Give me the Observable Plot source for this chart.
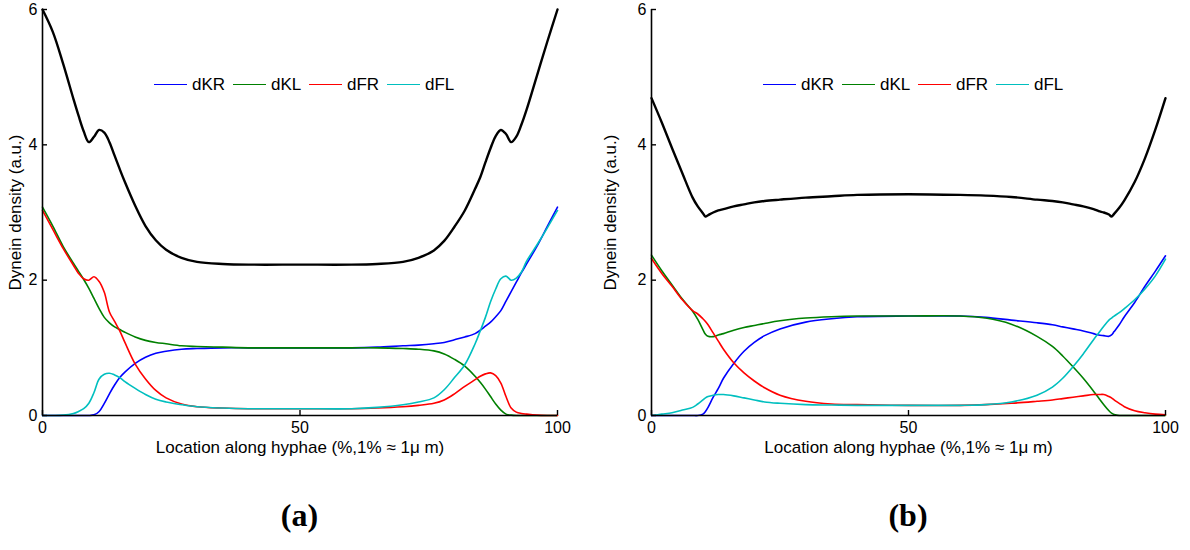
<!DOCTYPE html>
<html>
<head>
<meta charset="utf-8">
<script src="https://cdn.jsdelivr.net/npm/d3@7"></script>
<script src="https://cdn.jsdelivr.net/npm/@observablehq/plot@0.6"></script>
<style>
  html, body { margin: 0; padding: 0; background: #fff; }
  body { width: 1190px; height: 550px; position: relative; overflow: hidden; font-family: "Liberation Sans", Arial, sans-serif; }
  .panel { position: absolute; top: 0; }
  .leg { position: absolute; top: 74px; height: 22px; font-size: 17px; line-height: 22px; color: #000; white-space: nowrap; }
  .leg .ln { position: absolute; top: 10px; width: 33px; height: 0; border-top: 1.6px solid; }
  .leg .tx { position: absolute; top: 0; }
  .cap { position: absolute; top: 497px; width: 100px; text-align: center; font-family: "Liberation Serif", "DejaVu Serif", serif; font-weight: bold; font-size: 32px; color: #000; }
</style>
</head>
<body>
<script>
// ---------- data ----------
const seriesNames = ["dKR", "dKL", "dFR", "dFL"];
const xTicks = [0, 50, 100];
const yTicks = [0, 2, 4, 6];
const xLabel = "Location along hyphae (%,1% \u2248 1\u03bc m)";
const yLabel = "Dynein density (a.u.)";
const panelCaptions = ["(a)", "(b)"];

// panel (a)
const xA = [0,2,4,6,7,8,9,10,11,12,13,14,15,16,18,20,22,24,27,30,35,40,50,
            60,65,70,73,76,78,80,82,84,85,86,87,88,89,90,91,92,93,94,96,98,100];
const aTotal = [6.0,5.67,5.2,4.68,4.43,4.2,4.04,4.12,4.22,4.18,4.04,3.84,3.64,3.45,3.1,2.8,2.59,2.45,2.33,2.27,2.24,2.23,2.23,
                2.23,2.24,2.27,2.33,2.44,2.58,2.79,3.03,3.35,3.52,3.74,3.95,4.13,4.22,4.16,4.04,4.12,4.3,4.52,5.02,5.52,6.0];
const aKR = [0,0,0,0,0,0,0,0.01,0.06,0.18,0.32,0.45,0.56,0.64,0.77,0.86,0.92,0.95,0.98,0.99,1.0,1.0,1.0,
             1.0,1.01,1.03,1.04,1.06,1.08,1.12,1.16,1.21,1.26,1.32,1.38,1.46,1.55,1.69,1.83,1.97,2.11,2.24,2.5,2.79,3.08];
const aKL = [3.08,2.8,2.5,2.25,2.13,2.01,1.88,1.73,1.58,1.45,1.37,1.31,1.27,1.23,1.16,1.11,1.08,1.06,1.03,1.02,1.01,1.0,1.0,
             1.0,1.0,0.99,0.98,0.955,0.91,0.83,0.73,0.58,0.49,0.39,0.28,0.17,0.08,0.02,0.005,0,0,0,0,0,0];
const aFR = [3.03,2.75,2.47,2.22,2.1,2.02,2.0,2.05,1.98,1.82,1.53,1.39,1.25,1.08,0.76,0.54,0.37,0.26,0.17,0.13,0.11,0.10,0.10,
             0.10,0.11,0.13,0.15,0.18,0.23,0.32,0.43,0.53,0.58,0.615,0.63,0.59,0.48,0.28,0.11,0.05,0.03,0.02,0.005,0,0];
const aFL = [0,0,0.005,0.03,0.06,0.1,0.18,0.34,0.54,0.61,0.625,0.6,0.56,0.5,0.4,0.31,0.24,0.2,0.16,0.13,0.11,0.10,0.10,
             0.10,0.12,0.16,0.2,0.26,0.38,0.56,0.75,1.06,1.25,1.45,1.68,1.87,2.02,2.06,2.0,2.03,2.12,2.28,2.52,2.77,3.03];

// panel (b)
const xB = [0,2,4,6,8,9,10,10.5,11,12,13,14,16,18,20,22,25,30,35,40,50,
            60,65,70,75,78,80,82,84,86,87,88,89,89.5,90,91,92,94,96,98,100];
const bTotal = [4.69,4.33,3.95,3.58,3.22,3.09,2.99,2.94,2.96,3.0,3.03,3.05,3.09,3.12,3.15,3.17,3.19,3.22,3.24,3.26,3.27,
                3.26,3.25,3.23,3.19,3.17,3.15,3.12,3.09,3.05,3.02,3.0,2.97,2.94,2.98,3.07,3.18,3.45,3.8,4.22,4.69];
const bKR = [0,0,0,0,0,0,0.02,0.06,0.12,0.27,0.4,0.55,0.77,0.95,1.08,1.18,1.28,1.38,1.43,1.46,1.47,
             1.47,1.45,1.41,1.37,1.34,1.31,1.28,1.25,1.21,1.19,1.18,1.17,1.19,1.24,1.34,1.46,1.67,1.91,2.13,2.36];
const bKL = [2.37,2.14,1.93,1.72,1.54,1.42,1.27,1.2,1.17,1.165,1.19,1.21,1.26,1.3,1.33,1.36,1.4,1.44,1.46,1.47,1.47,
             1.47,1.44,1.35,1.17,1.02,0.88,0.72,0.55,0.36,0.26,0.16,0.07,0.035,0.015,0,0,0,0,0,0];
const bFR = [2.32,2.1,1.91,1.71,1.55,1.5,1.43,1.39,1.34,1.22,1.1,0.98,0.78,0.63,0.51,0.41,0.3,0.21,0.17,0.16,0.15,
             0.15,0.16,0.18,0.21,0.23,0.25,0.27,0.29,0.31,0.31,0.31,0.28,0.26,0.23,0.18,0.13,0.07,0.04,0.02,0.01];
const bFL = [0,0.02,0.04,0.08,0.12,0.17,0.23,0.26,0.28,0.3,0.31,0.31,0.29,0.26,0.23,0.2,0.18,0.16,0.155,0.15,0.15,
             0.15,0.16,0.2,0.3,0.42,0.55,0.72,0.91,1.12,1.22,1.32,1.41,1.44,1.47,1.52,1.58,1.71,1.87,2.06,2.31];

// ---------- styles ----------
const seriesColors = ["#0000ff", "#008000", "#ff0000", "#00bfbf"];
const W = 595, H = 470, MT = 9, MB = 55;

function drawPanel(x, total, series, left, ml, mr, legendOffsets, caption) {
  const rows = ys => x.map((xv, i) => ({x: xv, y: ys[i]}));
  const fw = W - ml - mr, fh = H - MT - MB;
  const chart = Plot.plot({
    width: W, height: H,
    marginTop: MT, marginBottom: MB, marginLeft: ml, marginRight: mr,
    x: {domain: [0, 100]},
    y: {domain: [0, 6]},
    style: {fontFamily: "'Liberation Sans', Arial, sans-serif", fontSize: "16px", color: "#000", background: "#fff", overflow: "visible"},
    marks: [
      Plot.line(rows(total), {x: "x", y: "y", stroke: "#000", strokeWidth: 2.4, curve: "catmull-rom"}),
      ...series.map((s, i) => Plot.line(rows(s), {x: "x", y: "y", stroke: seriesColors[i], strokeWidth: 1.6, curve: "catmull-rom"})),
      Plot.ruleY([0], {stroke: "#000", strokeWidth: 1.6}),
      Plot.ruleX([0], {stroke: "#000", strokeWidth: 1.6}),
      Plot.tickY(yTicks, {y: d => d, stroke: "#000", strokeWidth: 1.4, insetRight: fw - 5}),
      Plot.tickX(xTicks, {x: d => d, stroke: "#000", strokeWidth: 1.4, insetTop: fh - 5}),
      Plot.axisX({ticks: xTicks, tickSize: 0, tickPadding: 6, tickFormat: d => `${d}`, label: xLabel, labelAnchor: "center", labelOffset: 37, labelArrow: "none"}),
      Plot.axisY({ticks: yTicks, tickSize: 0, tickPadding: 5, tickFormat: d => `${d}`, label: yLabel, labelAnchor: "center", labelOffset: ml - 8, labelArrow: "none"})
    ]
  });
  chart.querySelectorAll('g[aria-label$="axis label"]').forEach(g => g.setAttribute("font-size", "17"));
  chart.classList.add("panel");
  chart.style.left = left + "px";
  document.body.appendChild(chart);

  // legend
  const frameLeft = left + ml;
  seriesNames.forEach((name, i) => {
    const item = document.createElement("div");
    item.className = "leg";
    item.style.left = (frameLeft + legendOffsets[i]) + "px";
    const ln = document.createElement("div");
    ln.className = "ln";
    ln.style.left = "0px";
    ln.style.borderTopColor = seriesColors[i];
    const tx = document.createElement("div");
    tx.className = "tx";
    tx.style.left = "38px";
    tx.textContent = name;
    item.appendChild(ln); item.appendChild(tx);
    document.body.appendChild(item);
  });

  // caption
  const cap = document.createElement("div");
  cap.className = "cap";
  cap.textContent = caption;
  cap.style.left = (frameLeft + fw / 2 - 50) + "px";
  document.body.appendChild(cap);
}

const legendOffsets = [112, 191, 267, 345];
drawPanel(xA, aTotal, [aKR, aKL, aFR, aFL], 0, 42, 38, legendOffsets, panelCaptions[0]);
drawPanel(xB, bTotal, [bKR, bKL, bFR, bFL], 595, 56, 25, legendOffsets, panelCaptions[1]);
</script>
</body>
</html>
